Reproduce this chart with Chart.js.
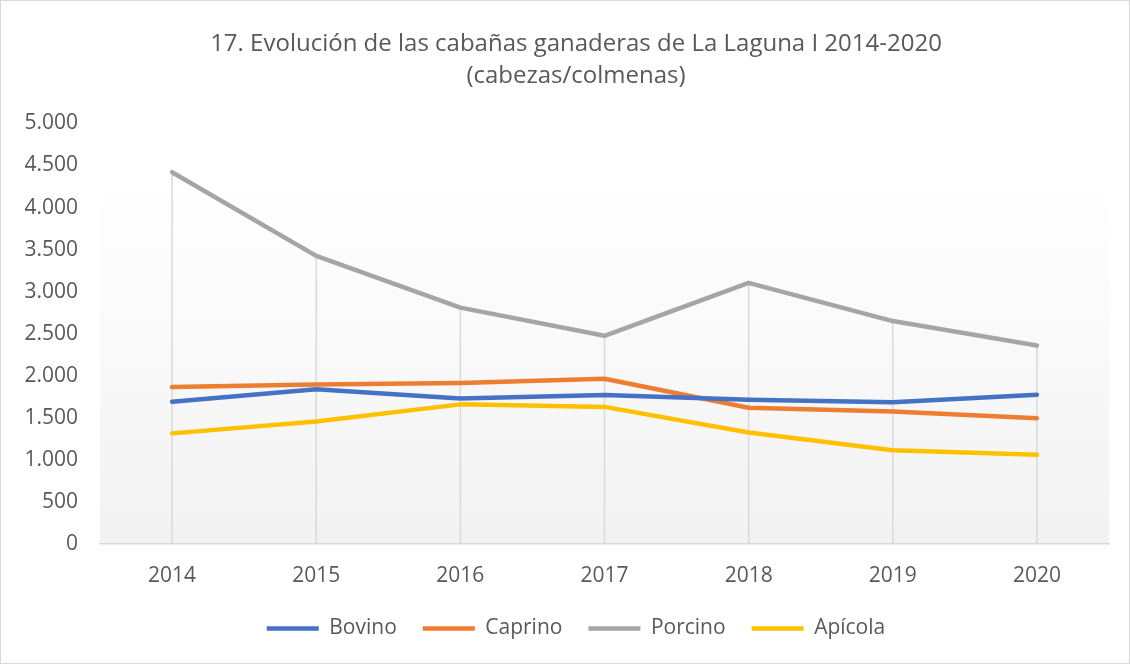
<!DOCTYPE html>
<html lang="es">
<head>
    <meta charset="UTF-8">
    <title>Evolución de las cabañas ganaderas de La Laguna I 2014-2020</title>
    <script src="https://cdn.jsdelivr.net/npm/chart.js"></script>
    <style>
        html, body { margin: 0; padding: 0; background: #fff; }
        #wrap { width: 1130px; height: 664px; box-sizing: border-box; border: 1px solid #d9d9d9; position: relative; }
        #wrap canvas { display: block; }
    </style>
</head>
<body>
    <div id="wrap"><canvas id="chart"></canvas></div>

    <script>
        // data
        const years = ['2014', '2015', '2016', '2017', '2018', '2019', '2020'];
        const bovino = [1690, 1840, 1730, 1770, 1715, 1685, 1775];
        const caprino = [1865, 1895, 1915, 1965, 1620, 1575, 1495];
        const porcino = [4420, 3425, 2810, 2475, 3105, 2650, 2360];
        const apicola = [1315, 1455, 1660, 1630, 1325, 1115, 1060];
        const yTicks = [0, 500, 1000, 1500, 2000, 2500, 3000, 3500, 4000, 4500, 5000];

        const textColor = '#595959';
        const fontFamily = '"Open Sans", "DejaVu Sans", sans-serif';

        function formatThousands(v) {
            return String(v).replace(/\B(?=(\d{3})+(?!\d))/g, '.');
        }

        // plot area gradient + drop lines from the highest point of each year
        const plotDecor = {
            id: 'plotDecor',
            afterLayout(chart) {
                // title and legend sit a bit right of the canvas centre in the original
                [chart.titleBlock, chart.legend].forEach(b => {
                    if (b) { b.left += 21; b.right += 21; }
                });
            },
            beforeDraw(chart) {
                const a = chart.chartArea;
                const ctx = chart.ctx;
                const top = a.top + (a.bottom - a.top) * 0.133;
                const g = ctx.createLinearGradient(0, top, 0, a.bottom);
                g.addColorStop(0, '#ffffff');
                g.addColorStop(1, '#f2f2f2');
                ctx.save();
                ctx.fillStyle = g;
                ctx.fillRect(a.left, top, a.right - a.left, a.bottom - top);
                ctx.restore();
            },
            beforeDatasetsDraw(chart) {
                const ctx = chart.ctx;
                const xs = chart.scales.x;
                const ys = chart.scales.y;
                ctx.save();
                ctx.strokeStyle = '#d9d9d9';
                ctx.lineWidth = 1.5;
                years.forEach((yr, i) => {
                    const maxVal = Math.max(...chart.data.datasets.map(d => d.data[i]));
                    const x = xs.getPixelForValue(i);
                    ctx.beginPath();
                    ctx.moveTo(x, ys.getPixelForValue(maxVal));
                    ctx.lineTo(x, chart.chartArea.bottom);
                    ctx.stroke();
                });
                ctx.restore();
            }
        };

        function series(label, data, color) {
            return {
                label: label,
                data: data,
                borderColor: color,
                backgroundColor: color,
                borderWidth: 4.5,
                borderCapStyle: 'round',
                borderJoinStyle: 'round',
                pointRadius: 0,
                pointHoverRadius: 0,
                tension: 0,
                fill: false
            };
        }

        new Chart(document.getElementById('chart'), {
            type: 'line',
            data: {
                labels: years,
                datasets: [
                    series('Bovino', bovino, '#4472C4'),
                    series('Caprino', caprino, '#ED7D31'),
                    series('Porcino', porcino, '#A5A5A5'),
                    series('Apícola', apicola, '#FFC000')
                ]
            },
            options: {
                responsive: true,
                maintainAspectRatio: false,
                animation: false,
                layout: { padding: { left: 0, right: 20, top: 0, bottom: 14 } },
                plugins: {
                    title: {
                        display: true,
                        text: ['17. Evolución de las cabañas ganaderas de La Laguna I 2014-2020', '(cabezas/colmenas)'],
                        color: textColor,
                        font: { family: fontFamily, size: 24, weight: 'normal', lineHeight: 1.3 },
                        padding: { top: 28, bottom: 32 }
                    },
                    legend: {
                        position: 'bottom',
                        labels: {
                            usePointStyle: true,
                            pointStyle: 'line',
                            pointStyleWidth: 52,
                            boxWidth: 52,
                            padding: 26,
                            color: textColor,
                            font: { family: fontFamily, size: 21 }
                        }
                    },
                    tooltip: { enabled: false }
                },
                scales: {
                    x: {
                        offset: true,
                        grid: { display: false, drawTicks: false },
                        border: { display: true, color: '#d9d9d9', width: 1.5 },
                        ticks: { color: textColor, padding: 19, font: { family: fontFamily, size: 21 } },
                        afterFit(scale) { scale.height = 48; }
                    },
                    y: {
                        min: 0,
                        max: 5000,
                        afterBuildTicks(scale) { scale.ticks = yTicks.map(v => ({ value: v })); },
                        grid: { display: false, drawTicks: false },
                        border: { display: false },
                        ticks: {
                            color: textColor,
                            padding: 22,
                            font: { family: fontFamily, size: 21 },
                            callback: v => formatThousands(v)
                        },
                        afterFit(scale) { scale.width = 99; }
                    }
                }
            },
            plugins: [plotDecor]
        });
    </script>
</body>
</html>
